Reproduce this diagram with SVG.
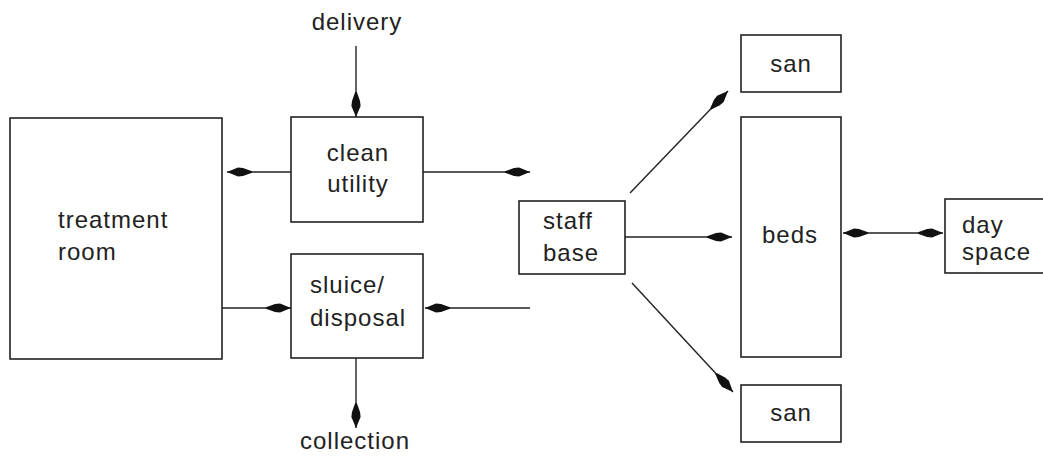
<svg xmlns="http://www.w3.org/2000/svg" width="1043" height="458" viewBox="0 0 1043 458">
<style>
.box{fill:#fff;stroke:#222;stroke-width:1.6}
.lbl{font-family:"Liberation Sans",Arial,sans-serif;font-size:24px;fill:#222;letter-spacing:1px}
.c{text-anchor:middle}
.con{stroke:#222;stroke-width:1.4;fill:none}
</style>
<defs>
<marker id="ah" markerUnits="userSpaceOnUse" markerWidth="30" markerHeight="12" viewBox="-26 -6 28 12" refX="0" refY="0" orient="auto-start-reverse">
<path d="M0,0 L-11,-4.6 L-16,-4 L-25,-0.8 L-25,0.8 L-16,4 L-11,4.6 z" fill="#111"/>
</marker>
</defs>
<rect width="1043" height="458" fill="#fff"/>
<g id="treatment-room"><rect class="box" x="10" y="118" width="212" height="241"/><text class="lbl" x="58" y="228">treatment</text><text class="lbl" x="58" y="260">room</text></g>
<g id="clean-utility"><rect class="box" x="291" y="117" width="132" height="105"/><text class="lbl c" x="358" y="161">clean</text><text class="lbl c" x="358" y="192">utility</text></g>
<g id="sluice-disposal"><rect class="box" x="291" y="254" width="132" height="104"/><text class="lbl" x="310" y="293">sluice/</text><text class="lbl" x="310" y="326">disposal</text></g>
<g id="delivery"><text class="lbl c" x="357" y="30">delivery</text></g>
<g id="collection"><text class="lbl c" x="355" y="449">collection</text></g>
<g id="staff-base"><rect class="box" x="519" y="201" width="106" height="73"/><text class="lbl" x="543" y="229">staff</text><text class="lbl" x="543" y="261">base</text></g>
<g id="san-top"><rect class="box" x="741" y="35" width="100" height="57"/><text class="lbl c" x="791" y="72">san</text></g>
<g id="beds"><rect class="box" x="741" y="117" width="100" height="240"/><text class="lbl c" x="790" y="243">beds</text></g>
<g id="san-bottom"><rect class="box" x="741" y="385" width="100" height="57"/><text class="lbl c" x="791" y="421">san</text></g>
<g id="day-space"><rect class="box" x="945" y="199" width="100" height="74"/><text class="lbl" x="962" y="233">day</text><text class="lbl" x="962" y="260">space</text></g>
<g id="connectors">
<line class="con" x1="356" y1="46" x2="356" y2="117" marker-end="url(#ah)"/>
<line class="con" x1="291" y1="172" x2="227" y2="172" marker-end="url(#ah)"/>
<line class="con" x1="423" y1="172" x2="530" y2="172" marker-end="url(#ah)"/>
<line class="con" x1="222" y1="308" x2="291" y2="308" marker-end="url(#ah)"/>
<line class="con" x1="530" y1="308" x2="425" y2="308" marker-end="url(#ah)"/>
<line class="con" x1="356" y1="358" x2="356" y2="428" marker-end="url(#ah)"/>
<line class="con" x1="630" y1="193" x2="728" y2="91" marker-end="url(#ah)"/>
<line class="con" x1="625" y1="237" x2="732" y2="237" marker-end="url(#ah)"/>
<line class="con" x1="632" y1="283" x2="733" y2="392" marker-end="url(#ah)"/>
<line class="con" x1="843" y1="233" x2="943" y2="233" marker-start="url(#ah)" marker-end="url(#ah)"/>
</g>
</svg>
